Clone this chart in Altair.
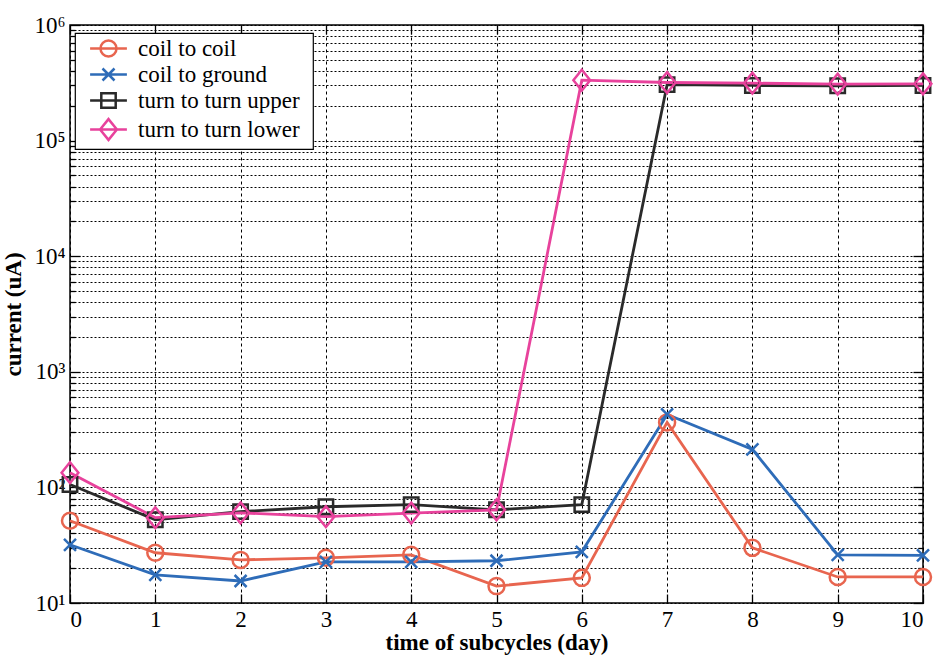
import altair as alt
import pandas as pd

# ---- data ----
days = list(range(11))
series_names = ["coil to coil", "coil to ground", "turn to turn upper", "turn to turn lower"]
coil_to_coil = [51.5, 27.2, 23.6, 24.6, 26.1, 14.0, 16.5, 365, 30, 16.8, 16.8]
coil_to_ground = [31.9, 17.5, 15.5, 22.7, 22.7, 23.2, 27.7, 428, 213, 26.1, 25.8]
turn_upper = [106, 52.5, 61.7, 68, 70.9, 64, 71, 305000, 300000, 298000, 300000]
turn_lower = [134, 54.7, 60.3, 55.8, 60, 64, 333000, 318000, 314000, 308000, 310000]

colors = ["#E8654F", "#2E6CB8", "#2A2A2A", "#E8429C"]

rows = []
for name, vals in zip(series_names, [coil_to_coil, coil_to_ground, turn_upper, turn_lower]):
    for d, v in zip(days, vals):
        rows.append({"day": d, "current": v, "series": name})
df = pd.DataFrame(rows)

# marker shapes (unit paths, scaled by sqrt(size)/2)
circle_p = "M-1,0A1,1,0,1,0,1,0A1,1,0,1,0,-1,0"
x_p = "M-0.75,-0.75L0.75,0.75M-0.75,0.75L0.75,-0.75"
square_p = "M-0.9,-0.9H0.9V0.9H-0.9Z"
diamond_p = "M0,-1.3L1.05,0L0,1.3L-1.05,0Z"
plot_shapes = [circle_p, x_p, square_p, diamond_p]
legend_shapes = ["M-2.3,0H2.3" + p for p in plot_shapes]

decades = [10 ** k for k in range(1, 7)]
minor = [m * 10 ** k for k in range(1, 6) for m in range(2, 10)]
y_ticks = sorted(decades + minor)

FONT = "Liberation Serif"
W, H = 853, 578
FS = 23

x_axis = alt.Axis(
    values=days, grid=True, gridDash=[3, 3], gridColor="black", gridOpacity=1,
    gridWidth=1, ticks=False, domain=False, labelFont=FONT, labelFontSize=FS,
    labelColor="black", labelPadding=5, title="time of subcycles (day)",
    titleFont=FONT, titleFontSize=FS, titleFontWeight="bold", titleColor="black",
    titlePadding=0,
)
y_axis = alt.Axis(
    values=y_ticks, grid=True, gridDash=[2, 2], gridColor="black", gridOpacity=1,
    gridWidth=1, ticks=False, domain=False, labelFont=FONT, labelFontSize=FS,
    labelColor="black", labelPadding=5,
    labelExpr="abs(log(datum.value)/LN10 - round(log(datum.value)/LN10)) < 0.001 ? '10' + ['\u2070','\u00b9','\u00b2','\u00b3','\u2074','\u2075','\u2076'][round(log(datum.value)/LN10)] : ''",
    title="current (uA)", titleFont=FONT, titleFontSize=FS, titleFontWeight="bold",
    titleColor="black", titlePadding=8,
)


def tick_axis(values, orient, offset, size):
    return alt.Axis(
        values=values, orient=orient, offset=offset, tickSize=size, ticks=True,
        tickColor="black", tickWidth=1.3, labels=False, grid=False, domain=False,
        title=None,
    )


color_scale = alt.Scale(domain=series_names, range=colors)
xs = alt.Scale(domain=[0, 10], nice=False, zero=False)
ys = alt.Scale(type="log", domain=[10, 1e6], nice=False)

base = alt.Chart(df)

lines = base.mark_line(strokeWidth=2.8).encode(
    x=alt.X("day:Q", scale=xs, axis=x_axis),
    y=alt.Y("current:Q", scale=ys, axis=y_axis),
    color=alt.Color("series:N", scale=color_scale, legend=None),
)
points = base.mark_point(filled=False, size=256, strokeWidth=2.5, opacity=1).encode(
    x=alt.X("day:Q", scale=xs, axis=None),
    y=alt.Y("current:Q", scale=ys, axis=None),
    color=alt.Color("series:N", scale=color_scale, legend=None),
    shape=alt.Shape("series:N", scale=alt.Scale(domain=series_names, range=plot_shapes), legend=None),
)

leg = alt.Legend(
    title="i", titleOrient="right", titleColor="white", titleFontSize=10, titlePadding=6,
    orient="none", legendX=5, legendY=8, fillColor="white",
    strokeColor="black", padding=4, symbolSize=256, symbolStrokeWidth=2.5,
    symbolOffset=18, labelOffset=18, labelFont=FONT, labelFontSize=FS,
    labelColor="black", rowPadding=1, labelLimit=400,
)
legend_layer = base.mark_point(filled=False, size=256, strokeWidth=2.5, opacity=1).encode(
    x=alt.X("day:Q", scale=xs, axis=None),
    y=alt.Y("current:Q", scale=ys, axis=None),
    color=alt.Color("series:N", scale=color_scale, legend=leg),
    shape=alt.Shape("series:N", scale=alt.Scale(domain=series_names, range=legend_shapes), legend=leg),
).transform_filter("datum.current < 0")

# inward ticks on all four sides (empty layers that only carry axes)
empty = base.mark_point(opacity=0).transform_filter("datum.current < 0")
t1 = empty.encode(
    x=alt.X("day:Q", scale=xs, axis=tick_axis(days, "top", -H, 9)),
    y=alt.Y("current:Q", scale=ys, axis=tick_axis(decades, "right", -W, 10)),
)
t2 = empty.encode(
    x=alt.X("day:Q", scale=xs, axis=tick_axis(days, "bottom", -H, 9)),
    y=alt.Y("current:Q", scale=ys, axis=tick_axis(minor, "right", -W, 5)),
)
t3 = empty.encode(
    x=alt.X("day:Q", scale=xs, axis=None),
    y=alt.Y("current:Q", scale=ys, axis=tick_axis(decades, "left", -W, 10)),
)
t4 = empty.encode(
    x=alt.X("day:Q", scale=xs, axis=None),
    y=alt.Y("current:Q", scale=ys, axis=tick_axis(minor, "left", -W, 5)),
)

chart = alt.layer(t1, t2, t3, t4, lines, points, legend_layer).resolve_scale(
    color="independent", shape="independent"
).resolve_axis(x="independent", y="independent").properties(
    width=W, height=H,
    padding={"left": 70, "top": 25, "right": 13, "bottom": 54},
    autosize=alt.AutoSizeParams(type="none"),
    background="white",
).configure(font=FONT).configure_axis(labelFont=FONT, titleFont=FONT).configure_view(
    stroke="black", strokeWidth=1.5
).configure_legend(strokeWidth=1.2, labelFont=FONT)

chart.save("out.html", embed_options={"renderer": "svg", "actions": False})
